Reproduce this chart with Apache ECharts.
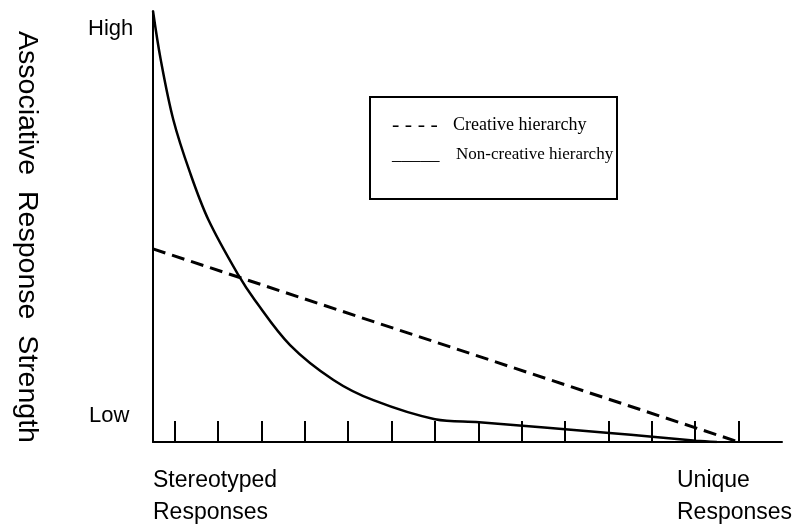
<!DOCTYPE html>
<html>
<head>
<meta charset="utf-8">
<script src="https://cdn.jsdelivr.net/npm/echarts@6/dist/echarts.min.js"></script>
<style>
  html, body { margin: 0; padding: 0; background: #fff; }
  #chart { width: 794px; height: 532px; }
</style>
</head>
<body>
<div id="chart"></div>
<script>
// x runs from stereotyped (0) to unique (14.5), y from low (0) to high (10)
const xMax = 14.5;
const yMax = 10;
const tickPositions = [0.5, 1.5, 2.5, 3.5, 4.5, 5.5, 6.5, 7.5, 8.5, 9.5, 10.5, 11.5, 12.5, 13.5];

const creativeX = [0, 13.5];
const creativeY = [4.48, 0];

const nonCreativeX = [0, 0.18, 0.47, 0.85, 1.28, 1.97, 2.35, 3.16, 4.16, 5.08, 6.5, 7.52, 10.52, 11.51, 12.52, 13.0];
const nonCreativeY = [10, 8.86, 7.47, 6.26, 5.15, 3.87, 3.29, 2.25, 1.44, 0.97, 0.53, 0.46, 0.21, 0.12, 0.03, 0];

const yLabels = ['Low', 'High'];
const xLabels = ['Stereotyped\nResponses', 'Unique\nResponses'];
const yTitle = 'Associative  Response  Strength';
const seriesNames = ['Creative hierarchy', 'Non-creative hierarchy'];

const sansFont = "'Liberation Sans', Arial, sans-serif";
const serifFont = "'Liberation Serif', 'Times New Roman', serif";

function pairs(xs, ys) {
  return xs.map(function (x, i) { return [x, ys[i]]; });
}

const chart = echarts.init(document.getElementById('chart'), null, { renderer: 'canvas' });

const option = {
  backgroundColor: '#fff',
  animation: false,
  grid: { left: 153, top: 11, width: 629, height: 431, containLabel: false },
  xAxis: {
    type: 'value',
    min: 0,
    max: xMax,
    axisLine: { show: true, lineStyle: { color: '#000', width: 2 } },
    axisTick: {
      show: true,
      inside: true,
      length: 21,
      customValues: tickPositions,
      lineStyle: { color: '#000', width: 2 }
    },
    axisLabel: { show: false },
    splitLine: { show: false }
  },
  yAxis: {
    type: 'value',
    min: 0,
    max: yMax,
    axisLine: { show: true, onZero: false, lineStyle: { color: '#000', width: 2 } },
    axisTick: { show: false },
    axisLabel: { show: false },
    splitLine: { show: false }
  },
  series: [
    {
      name: seriesNames[0],
      type: 'line',
      data: pairs(creativeX, creativeY),
      symbol: 'none',
      lineStyle: { color: '#000', width: 3, type: [13, 7] }
    },
    {
      name: seriesNames[1],
      type: 'line',
      data: pairs(nonCreativeX, nonCreativeY),
      symbol: 'none',
      smooth: 0.35,
      lineStyle: { color: '#000', width: 2.5 }
    }
  ],
  graphic: [
    // y axis end labels
    { type: 'text', left: 88, top: 18, style: { text: yLabels[1], font: '22px ' + sansFont, fill: '#000' } },
    { type: 'text', left: 89, top: 405, style: { text: yLabels[0], font: '22px ' + sansFont, fill: '#000' } },
    // x axis end labels
    { type: 'text', left: 153, top: 465, style: { text: xLabels[0], font: '23px ' + sansFont, lineHeight: 32, fill: '#000' } },
    { type: 'text', left: 677, top: 465, style: { text: xLabels[1], font: '23px ' + sansFont, lineHeight: 32, fill: '#000' } },
    // rotated axis title
    {
      type: 'text',
      x: 27,
      y: 237,
      rotation: -Math.PI / 2,
      style: { text: yTitle, font: '28.5px ' + sansFont, fill: '#000', align: 'center', verticalAlign: 'middle' }
    },
    // boxed legend
    {
      type: 'rect',
      shape: { x: 370, y: 97, width: 247, height: 102 },
      style: { fill: '#fff', stroke: '#000', lineWidth: 2 }
    },
    { type: 'text', x: 392, y: 125, style: { text: '- - - -', font: '22px ' + serifFont, fill: '#000', verticalAlign: 'middle' } },
    { type: 'text', x: 453, y: 125, style: { text: seriesNames[0], font: '18px ' + serifFont, fill: '#000', verticalAlign: 'middle' } },
    { type: 'text', x: 392, y: 155, style: { text: '_____', font: '19px ' + serifFont, fill: '#000', verticalAlign: 'middle' } },
    { type: 'text', x: 456, y: 155, style: { text: seriesNames[1], font: '17px ' + serifFont, fill: '#000', verticalAlign: 'middle' } }
  ]
};

chart.setOption(option);
</script>
</body>
</html>
